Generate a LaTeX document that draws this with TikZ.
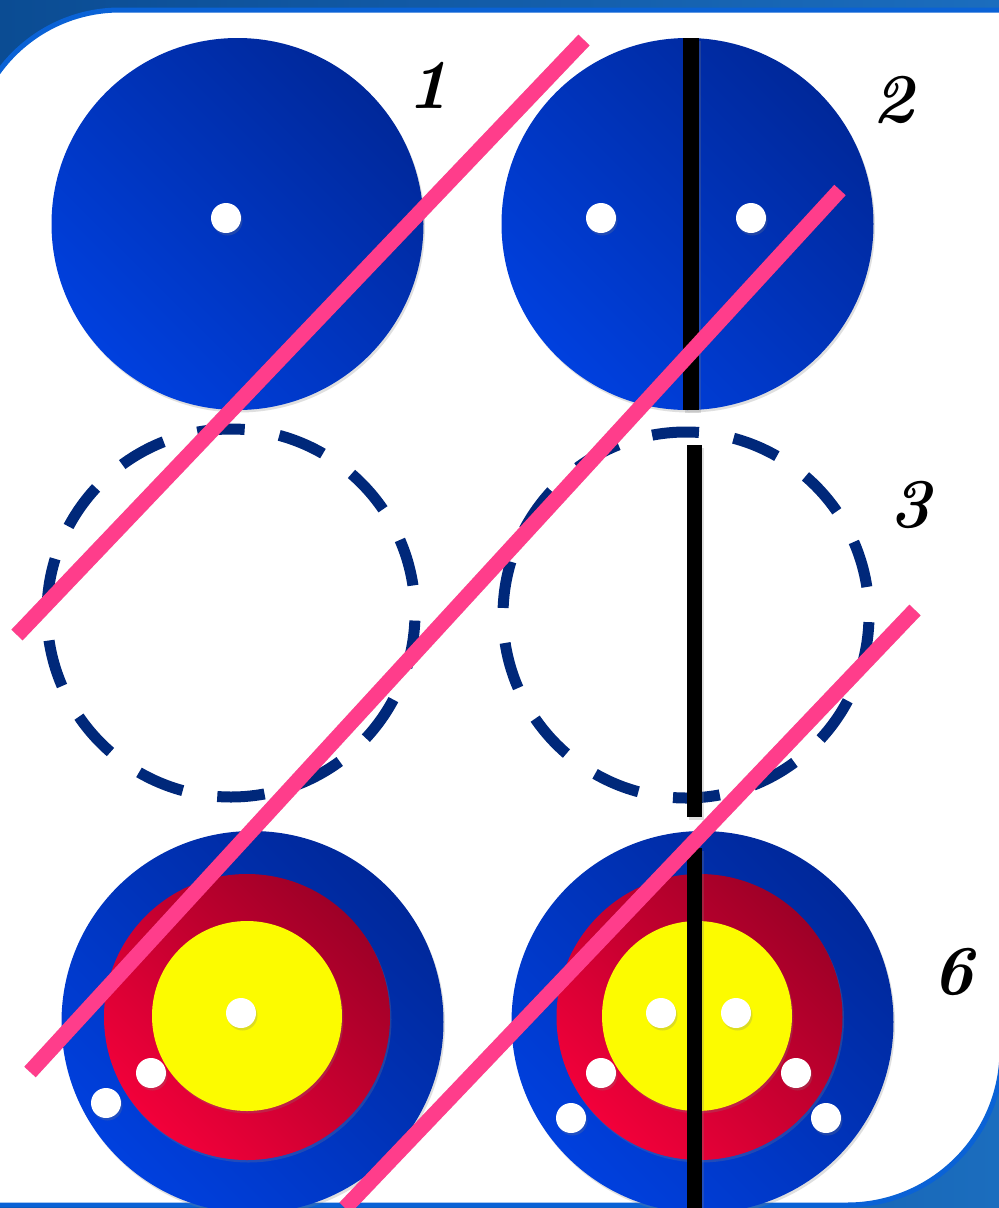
\documentclass[tikz,border=0pt]{standalone}
\usetikzlibrary{shadows}
\definecolor{bgdark}{HTML}{0B4C93}
\definecolor{bglight}{HTML}{1B6DBE}
\definecolor{rim}{HTML}{0A62D6}
\definecolor{blueL}{HTML}{0040DE}
\definecolor{blueD}{HTML}{00289A}
\definecolor{redL}{HTML}{F2003A}
\definecolor{redD}{HTML}{9E0027}
\definecolor{yel}{HTML}{FCFB00}
\definecolor{navy}{HTML}{00287A}
\definecolor{pinkl}{HTML}{FF3D8B}
\begin{document}
\begin{tikzpicture}[x=1pt,y=-1pt,
  shd/.style={drop shadow={opacity=0.25,shadow xshift=1.5pt,shadow yshift=-2.5pt}},
  bluedisc/.style={shd, bottom color=blueL, top color=blueD, shading angle=-45},
  reddisc/.style={shd, bottom color=redL, top color=redD, shading angle=-45},
  yeldisc/.style={shd, fill=yel},
  hole/.style={shd, fill=white},
  dashring/.style={draw=navy, line width=11pt},
  barblk/.style={fill=black, shd},
  pinkline/.style={draw=pinkl, line width=15.5pt},
  pinkshadow/.style={draw=black, opacity=0.15, line width=15.5pt},
  lbl/.style={font=\fontsize{70}{70}\selectfont\bfseries\itshape, inner sep=0pt}]
\useasboundingbox (0,0) rectangle (999,1208);
\clip (0,0) rectangle (999,1208);
% background
\fill[left color=bgdark, right color=bglight] (0,0) rectangle (999,1208);
% white panel
\draw[draw=rim, line width=5pt, fill=white] (-30,1300) [rounded corners=150pt] -- (-30,10) -- (500,10) [sharp corners] -- (1002,10) -- (1002,600) [rounded corners=155pt] -- (1002,1205) -- (500,1205) [sharp corners] -- (-30,1205) -- cycle;

% top row targets
\path[bluedisc] (237.5,224) circle[radius=186];
\path[hole] (226,218) circle[radius=15];
\path[bluedisc] (687.5,224) circle[radius=186];
\path[hole] (601,218) circle[radius=15];
\path[hole] (751,218) circle[radius=15];
\path[barblk] (683,38) rectangle (699,410);

% middle row dashed rings
\draw[dashring, dash pattern=on 47.5pt off 35.08pt, dash phase=75pt] (231,613) circle[radius=184];
\draw[dashring, dash pattern=on 47pt off 35.13pt, dash phase=75pt] (686,615) circle[radius=183];
\path[barblk] (687,445) rectangle (702,817);

% bottom row targets
\path[bluedisc] (252.5,1022) circle[radius=191];
\path[reddisc] (247,1017) circle[radius=143];
\path[yeldisc] (247,1016) circle[radius=95];
\path[hole] (241,1013) circle[radius=15];
\path[hole] (151,1073) circle[radius=15];
\path[hole] (106,1103) circle[radius=15];

\path[bluedisc] (702.5,1022) circle[radius=191];
\path[reddisc] (699.5,1017) circle[radius=143];
\path[yeldisc] (697,1016) circle[radius=95];
\path[hole] (661,1013) circle[radius=15];
\path[hole] (736,1013) circle[radius=15];
\path[hole] (601,1073) circle[radius=15];
\path[hole] (796,1073) circle[radius=15];
\path[hole] (571,1118) circle[radius=15];
\path[hole] (826,1118) circle[radius=15];
\path[barblk] (687,848) rectangle (702,1215);

% pink lines
\coordinate (p1a) at (584,40);
\coordinate (p1b) at (17,635);
\coordinate (p2a) at (840,190);
\coordinate (p2b) at (30,1072);
\coordinate (p3a) at (915,610);
\coordinate (p3b) at (345,1208);
\begin{scope}[xshift=1.5pt,yshift=-2.5pt]
\draw[pinkshadow] (p1a) -- (p1b);
\draw[pinkshadow] (p2a) -- (p2b);
\draw[pinkshadow] (p3a) -- (p3b);
\end{scope}
\draw[pinkline] (p1a) -- (p1b);
\draw[pinkline] (p2a) -- (p2b);
\draw[pinkline] (p3a) -- (p3b);

% labels
\node[lbl] (l1) at (428,85) {1};
\node[lbl] (l2) at (893,100) {2};
\node[lbl] (l3) at (910,505) {3};
\node[lbl] (l6) at (953,972) {6};
\end{tikzpicture}
\end{document}
